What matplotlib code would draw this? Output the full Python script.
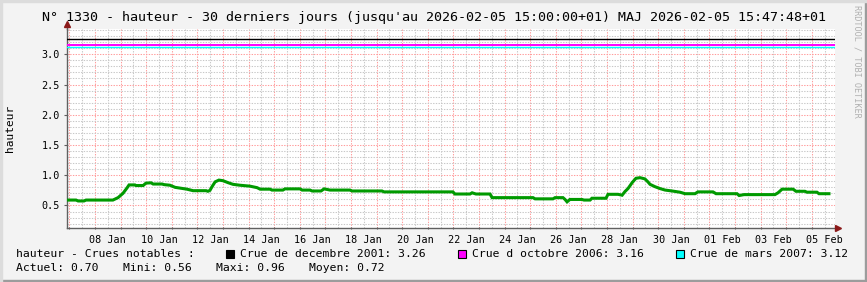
import numpy as np
import pandas as pd
import matplotlib
matplotlib.use('Agg')
import matplotlib.pyplot as plt
import matplotlib.dates as mdates
from matplotlib.patches import Rectangle

# --- donnees ---
# jours depuis le 2026-01-08 00:00
jours = [-1.09, -0.74, -0.66, -0.43, -0.35, 0.70, 0.90, 1.09, 1.25, 1.33, 1.56, 1.60,
         1.88, 1.99, 2.19, 2.27, 2.62, 2.70, 2.93, 3.13, 3.36, 3.59, 3.83, 4.34, 4.41,
         4.49, 4.57, 4.69, 4.84, 5.00, 5.20, 5.39, 5.66, 6.05, 6.33, 6.45, 6.84, 6.91,
         7.34, 7.42, 8.01, 8.09, 8.40, 8.48, 8.83, 8.95, 9.18, 9.96, 10.04, 11.21, 11.29,
         13.98, 14.06, 14.65, 14.73, 14.88, 15.43, 15.51, 17.11, 17.19, 17.89, 17.97,
         18.28, 18.36, 18.44, 18.55, 19.02, 19.10, 19.34, 19.41, 19.96, 20.04, 20.43,
         20.59, 20.70, 20.82, 20.98, 21.13, 21.29, 21.48, 21.60, 21.68, 21.88, 22.07,
         22.27, 22.54, 22.85, 23.05, 23.44, 23.55, 24.14, 24.26, 25.08, 25.16, 25.35,
         26.56, 26.68, 26.84, 27.27, 27.38, 27.73, 27.81, 28.20, 28.28, 28.67]
hauteur = [0.59, 0.59, 0.575, 0.575, 0.59, 0.59, 0.63, 0.70, 0.79, 0.84, 0.84, 0.83,
           0.83, 0.87, 0.875, 0.855, 0.855, 0.845, 0.835, 0.80, 0.785, 0.77, 0.745, 0.745, 0.735,
           0.75, 0.81, 0.89, 0.92, 0.91, 0.877, 0.85, 0.835, 0.82, 0.795, 0.77, 0.77, 0.755,
           0.755, 0.775, 0.775, 0.755, 0.755, 0.74, 0.74, 0.775, 0.755, 0.755, 0.74, 0.74, 0.725,
           0.725, 0.69, 0.69, 0.71, 0.69, 0.69, 0.63, 0.63, 0.61, 0.61, 0.63,
           0.63, 0.60, 0.56, 0.60, 0.60, 0.59, 0.59, 0.62, 0.62, 0.685, 0.685,
           0.67, 0.73, 0.78, 0.877, 0.95, 0.96, 0.94, 0.89, 0.85, 0.81, 0.78,
           0.755, 0.74, 0.72, 0.695, 0.695, 0.725, 0.725, 0.695, 0.695, 0.665, 0.68,
           0.68, 0.71, 0.77, 0.77, 0.735, 0.735, 0.72, 0.72, 0.695, 0.695]

crues_noms = ['Crue de decembre 2001', 'Crue d octobre 2006', 'Crue de mars 2007']
crues_val = [3.26, 3.16, 3.12]
crues_col = ['#000000', '#FF00FF', '#00FFFF']
stats_noms = ['Actuel', 'Mini', 'Maxi', 'Moyen']
stats_val = [0.70, 0.56, 0.96, 0.72]

titre = ("N° 1330 - hauteur - 30 derniers jours (jusqu'au 2026-02-05 15:00:00+01) "
         "MAJ 2026-02-05 15:47:48+01")

mono = 'DejaVu Sans Mono'
W, H = 867, 282

base = mdates.date2num(pd.Timestamp('2026-01-08 00:00'))
x = base + np.array(jours)

fig = plt.figure(figsize=(W / 100, H / 100), dpi=100)
fig.patch.set_facecolor('#F3F3F3')
# bordure facon rrdtool
fig.patches.append(Rectangle((0, 0), 1, 2 / H, transform=fig.transFigure, color='#9C9C9C', zorder=0))
fig.patches.append(Rectangle((1 - 2 / W, 0), 2 / W, 1, transform=fig.transFigure, color='#9C9C9C', zorder=0))
fig.patches.append(Rectangle((0, 1 - 2 / H), 1, 2 / H, transform=fig.transFigure, color='#DCDCDC', zorder=0))
fig.patches.append(Rectangle((0, 0), 2 / W, 1, transform=fig.transFigure, color='#DCDCDC', zorder=0))

ax = fig.add_axes([67 / W, (H - 228) / H, 768 / W, 199 / H])
ax.set_facecolor('white')
ax.set_xlim(base - 1.094, base - 1.094 + 30)
ax.set_ylim(0.128, 3.418)

# grille
grid_red = '#FF9C9C'
grid_gray = '#C8C8C8'
minuits = mdates.date2num(pd.date_range('2026-01-07', '2026-02-05', freq='D'))
midis = mdates.date2num(pd.date_range('2026-01-06 12:00', '2026-02-05 12:00', freq='D'))
for v in midis:
    ax.axvline(v, color=grid_gray, lw=0.75, ls=(0, (1.3, 1.3)), zorder=1)
for v in minuits:
    ax.axvline(v, color=grid_red, lw=0.75, ls=(0, (1.3, 1.3)), zorder=1)
for i in range(2, 35):
    v = i / 10
    if i % 5:
        ax.axhline(v, color=grid_gray, lw=0.75, ls=(0, (1.3, 1.3)), zorder=1)
    else:
        ax.axhline(v, color=grid_red, lw=0.75, ls=(0, (1.3, 1.3)), zorder=1)

# crues notables
lws = [1.0, 1.4, 1.0]
for val, col, lw in zip(crues_val, crues_col, lws):
    ax.axhline(val, color=col, lw=lw, zorder=3)

ax.plot(x, hauteur, color='#009A00', lw=2.2, solid_joinstyle='miter', zorder=4)

# axes
for s in ['top', 'right']:
    ax.spines[s].set_visible(False)
for s in ['left', 'bottom']:
    ax.spines[s].set_color('#606060')
    ax.spines[s].set_linewidth(1.0)
ax.plot([0], [1.025], marker='^', color='#8B1A1A', ms=5, transform=ax.transAxes, clip_on=False, zorder=6)
ax.plot([1.004], [0], marker='>', color='#8B1A1A', ms=5, transform=ax.transAxes, clip_on=False, zorder=6)
ax.plot([0, 0], [1, 1.025], color='#606060', lw=1.0, transform=ax.transAxes, clip_on=False)

yt = [0.5, 1.0, 1.5, 2.0, 2.5, 3.0]
ax.set_yticks(yt)
ax.set_yticklabels(['%.1f' % v for v in yt], family=mono, fontsize=7.3)
ax.tick_params(axis='y', length=2, direction='out', color='#606060', pad=3)

ax.set_xticks(minuits)
ax.set_xticklabels([])
ax.tick_params(axis='x', which='major', length=2, direction='inout', color='#606060')
lab = pd.date_range('2026-01-08 12:00', '2026-02-05 12:00', freq='2D')
ax.set_xticks(mdates.date2num(lab), minor=True)
ax.set_xticklabels([d.strftime('%d %b') for d in lab], minor=True, family=mono, fontsize=7.3)
ax.tick_params(axis='x', which='minor', length=0, pad=5)

ax.set_ylabel('hauteur', family=mono, fontsize=8)
ax.yaxis.set_label_coords(-52 / 768, 0.5)

fig.text(0.5, 1 - 18 / H, titre, family=mono, fontsize=9.6, ha='center', va='center')
fig.text(857 / W, 1 - 5 / H, 'RRDTOOL / TOBI OETIKER', family=mono, fontsize=6.1,
         color='#B0B0B0', rotation=270, ha='center', va='top')

# legende
y1 = 1 - 254 / H
y2 = 1 - 268 / H
fs = 8.2
fig.text(16 / W, y1, 'hauteur - Crues notables :', family=mono, fontsize=fs, va='center')
carres = [226, 458, 676]
for cx, nom, val, col in zip(carres, crues_noms, crues_val, crues_col):
    fig.patches.append(Rectangle((cx / W, y1 - 4 / H), 8 / W, 8 / H, transform=fig.transFigure,
                                 facecolor=col, edgecolor='black', lw=0.8))
    fig.text((cx + 14) / W, y1, '%s: %.2f' % (nom, val), family=mono, fontsize=fs, va='center')
stats_x = [16, 123, 216, 309]
for sx, nom, val in zip(stats_x, stats_noms, stats_val):
    fig.text(sx / W, y2, '%s: %.2f' % (nom, val), family=mono, fontsize=fs, va='center')

fig.savefig('out.png', dpi=100, facecolor=fig.get_facecolor())
